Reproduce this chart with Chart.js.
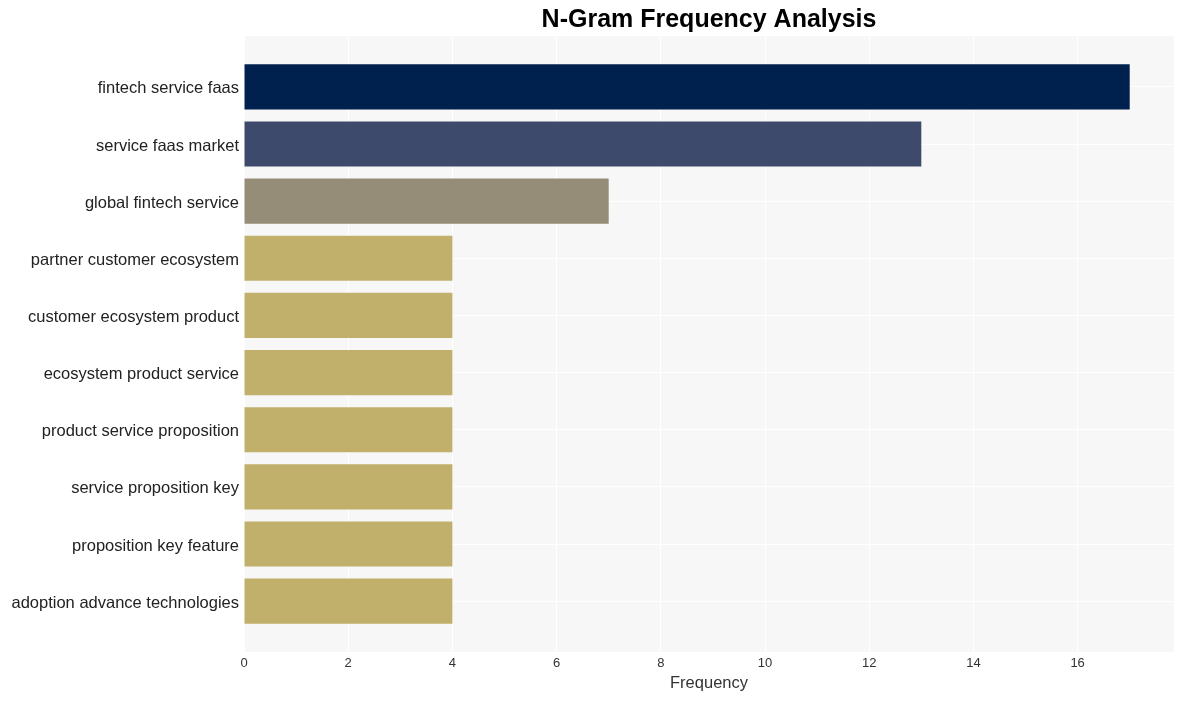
<!DOCTYPE html>
<html>
<head>
<meta charset="utf-8">
<script src="https://cdn.jsdelivr.net/npm/chart.js@4.4.1/dist/chart.umd.min.js"></script>
<style>
html,body{margin:0;padding:0;background:#ffffff;}
#wrap{width:1184px;height:701px;position:relative;}
</style>
</head>
<body>
<div id="wrap"><canvas id="c" width="1184" height="701"></canvas></div>
<script>
const categories = [
  "fintech service faas",
  "service faas market",
  "global fintech service",
  "partner customer ecosystem",
  "customer ecosystem product",
  "ecosystem product service",
  "product service proposition",
  "service proposition key",
  "proposition key feature",
  "adoption advance technologies"
];
const frequencies = [17, 13, 7, 4, 4, 4, 4, 4, 4, 4];
const barColors = ["#00214e", "#3e4a6b", "#958d78", "#c1b06b", "#c1b06b", "#c1b06b", "#c1b06b", "#c1b06b", "#c1b06b", "#c1b06b"];
const xTicks = [0, 2, 4, 6, 8, 10, 12, 14, 16];
const titleText = "N-Gram Frequency Analysis";
const xTitle = "Frequency";

const FONT = "'Liberation Sans', Arial, Helvetica, sans-serif";

const bgPlugin = {
  id: 'bgPlugin',
  beforeDraw(chart) {
    const {ctx, chartArea: a} = chart;
    ctx.save();
    ctx.fillStyle = '#ffffff';
    ctx.fillRect(0, 0, chart.width, chart.height);
    ctx.fillStyle = '#f7f7f7';
    ctx.fillRect(a.left, a.top, a.right - a.left, a.bottom - a.top);
    ctx.restore();
  },
  afterDraw(chart) {
    const {ctx, chartArea: a} = chart;
    ctx.save();
    ctx.fillStyle = '#000000';
    ctx.font = "bold 25px " + FONT;
    ctx.textAlign = 'center';
    ctx.textBaseline = 'middle';
    ctx.fillText(titleText, (a.left + a.right) / 2, 20);
    ctx.restore();
  }
};

new Chart(document.getElementById('c'), {
  type: 'bar',
  data: {
    datasets: [{
      data: categories.map((c, i) => ({x: frequencies[i], y: i})),
      backgroundColor: barColors,
      borderWidth: 0,
      barPercentage: 0.79,
      categoryPercentage: 1.0
    }]
  },
  options: {
    indexAxis: 'y',
    responsive: false,
    animation: false,
    layout: {padding: {top: 36, right: 10, left: 0, bottom: 0}},
    plugins: {legend: {display: false}, tooltip: {enabled: false}, title: {display: false}},
    scales: {
      x: {
        type: 'linear',
        min: 0,
        max: 17.85,
        afterBuildTicks(scale) { scale.ticks = xTicks.map(v => ({value: v})); },
        afterFit(scale) { scale.height = 49; },
        grid: {color: '#ffffff', lineWidth: 1, drawTicks: false},
        border: {display: false},
        ticks: {color: '#333333', font: {family: FONT, size: 13}, padding: 4, maxRotation: 0},
        title: {display: true, text: xTitle, color: '#333333', font: {family: FONT, size: 16.5}, padding: {top: 4, bottom: 8}}
      },
      y: {
        type: 'linear',
        reverse: true,
        offset: false,
        min: -0.89,
        max: 9.89,
        afterBuildTicks(scale) { scale.ticks = categories.map((c, i) => ({value: i})); },
        afterFit(scale) { scale.width = 244; },
        grid: {color: '#ffffff', lineWidth: 1, drawTicks: false, offset: false},
        border: {display: false},
        ticks: {
          color: '#222222',
          font: {family: FONT, size: 16.5},
          padding: 5,
          labelOffset: 2,
          autoSkip: false,
          callback: (v) => categories[v] !== undefined ? categories[v] : ''
        }
      }
    }
  },
  plugins: [bgPlugin]
});
</script>
</body>
</html>
